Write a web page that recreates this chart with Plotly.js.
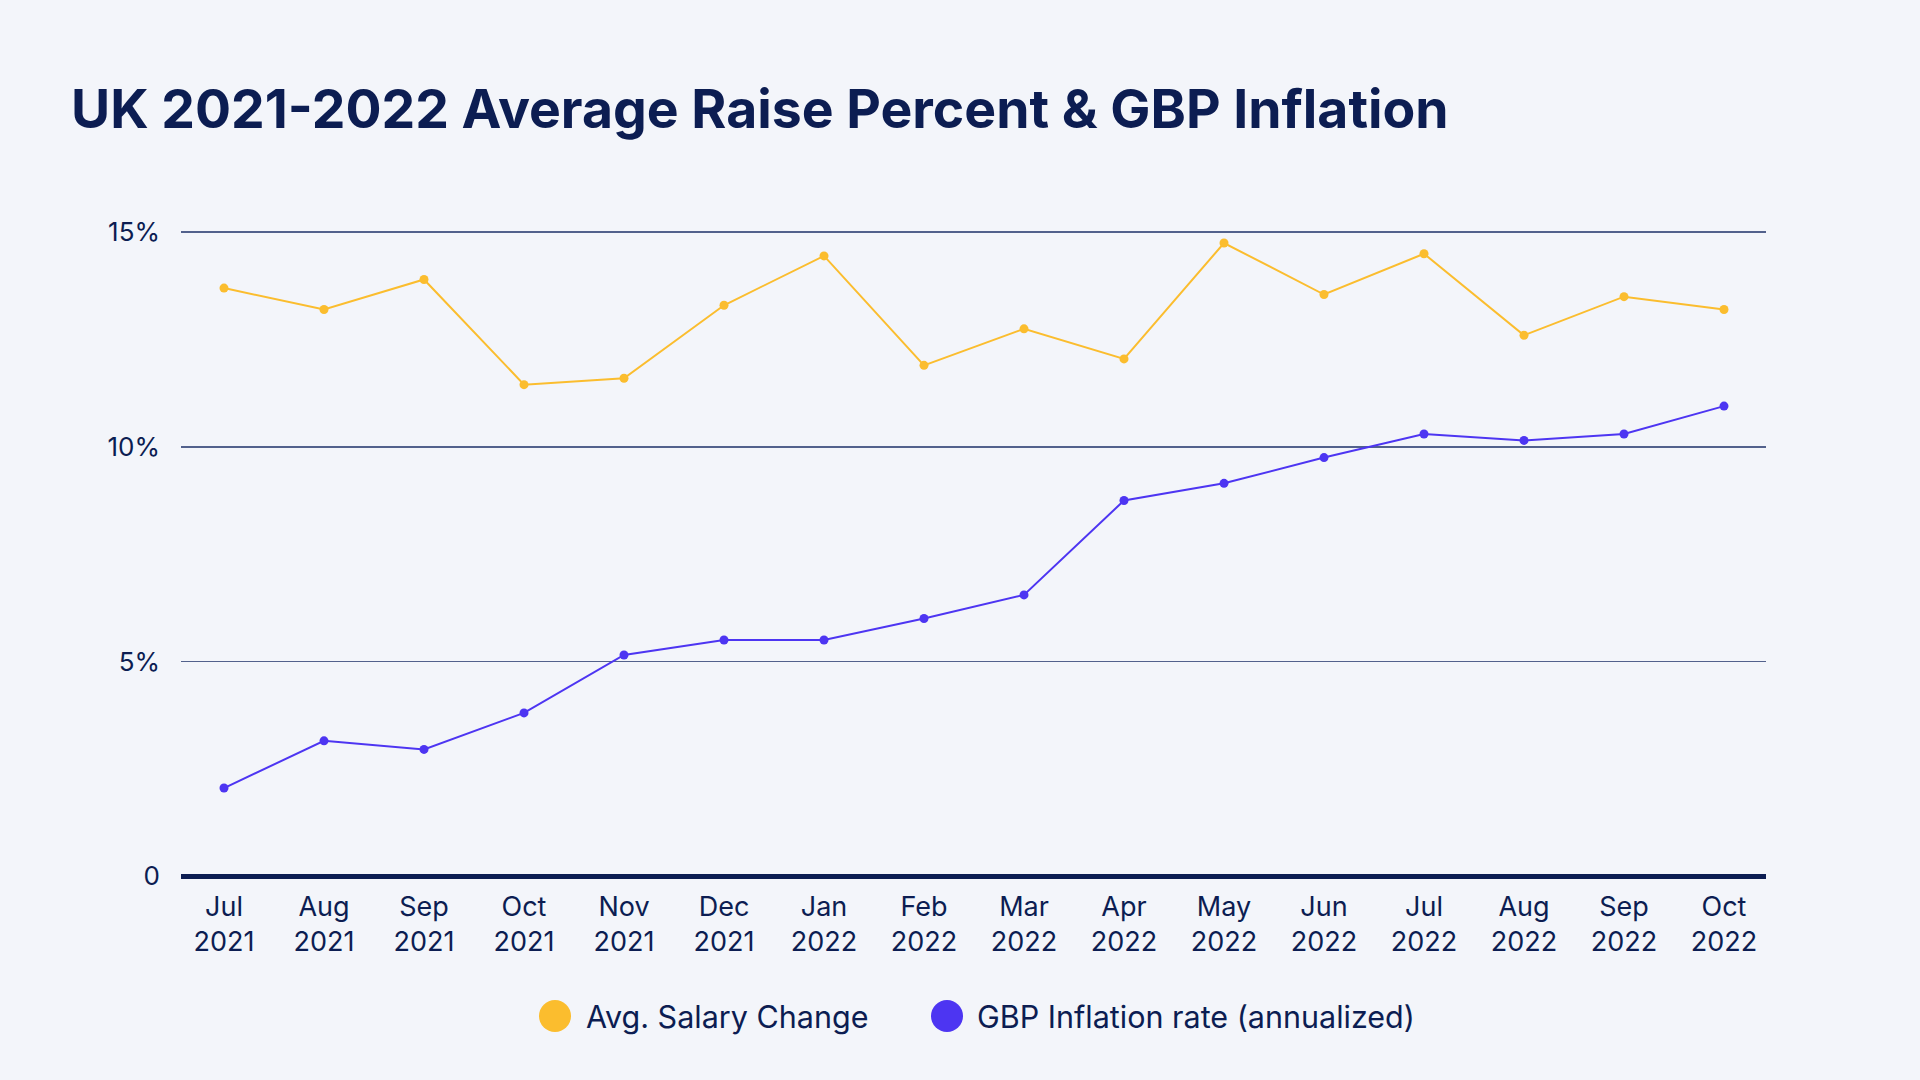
<!DOCTYPE html>
<html>
<head>
<meta charset="utf-8">
<script src="https://cdn.plot.ly/plotly-3.0.1.min.js"></script>
<style>
  html, body { margin: 0; padding: 0; background: #f3f5fa; }
  #chart { width: 1920px; height: 1080px; }
</style>
</head>
<body>
<div id="chart"></div>
<script>
// months on the x axis (two-line labels)
const months = [
    'Jul<br>2021', 'Aug<br>2021', 'Sep<br>2021', 'Oct<br>2021', 'Nov<br>2021', 'Dec<br>2021',
    'Jan<br>2022', 'Feb<br>2022', 'Mar<br>2022', 'Apr<br>2022', 'May<br>2022', 'Jun<br>2022',
    'Jul<br>2022', 'Aug<br>2022', 'Sep<br>2022', 'Oct<br>2022'
];
// values, in percent
const salaryChange = [13.7, 13.2, 13.9, 11.45, 11.6, 13.3, 14.45, 11.9, 12.75, 12.05, 14.75, 13.55, 14.5, 12.6, 13.5, 13.2];
const inflationRate = [2.05, 3.15, 2.95, 3.8, 5.15, 5.5, 5.5, 6.0, 6.55, 8.75, 9.15, 9.75, 10.3, 10.15, 10.3, 10.95];
const seriesNames = ['Avg. Salary Change', 'GBP Inflation rate (annualized)'];
const yTicks = [0, 5, 10, 15];
const yTickText = ['0', '5%', '10%', '15%'];

const navy = '#0c1d52';
const yellow = '#fbbd2e';
const blue = '#4d35f2';
const font = 'Inter, "Noto Sans", sans-serif';

// plot area in pixels (top leaves a little room above 15% so its gridline is drawn)
const W = 1920, H = 1080;
const L = 181, R = 154, T = 228, B = 204;
const yMax = 15.1;
const px = x => (x - L) / (W - L - R);          // pixel -> paper x
const py = y => (H - B - y) / (H - T - B);      // pixel -> paper y

let dataDraw = [
    {
        x: months, y: salaryChange, name: seriesNames[0],
        type: 'scatter', mode: 'lines+markers',
        line: {color: yellow, width: 2},
        marker: {color: yellow, size: 9},
        cliponaxis: false
    },
    {
        x: months, y: inflationRate, name: seriesNames[1],
        type: 'scatter', mode: 'lines+markers',
        line: {color: blue, width: 2},
        marker: {color: blue, size: 9},
        cliponaxis: false
    }
];

// legend drawn by hand so the dots can be as big as in the picture
let legendY = py(1016);
let legendItems = [
    {dot: 555, text: 584, color: yellow, label: seriesNames[0]},
    {dot: 947, text: 975, color: blue, label: seriesNames[1]}
];
let shapes = legendItems.map(item => ({
    type: 'circle', xref: 'paper', yref: 'paper',
    xsizemode: 'pixel', ysizemode: 'pixel',
    xanchor: px(item.dot), yanchor: legendY,
    x0: -16, x1: 16, y0: -16, y1: 16,
    fillcolor: item.color, line: {width: 0}
}));
let annotations = legendItems.map(item => ({
    xref: 'paper', yref: 'paper', x: px(item.text), y: legendY,
    xanchor: 'left', yanchor: 'middle', showarrow: false,
    text: item.label, font: {family: font, size: 30.5, color: navy}
}));

let layout = {
    width: W,
    height: H,
    paper_bgcolor: '#f3f5fa',
    plot_bgcolor: '#f3f5fa',
    margin: {l: L, r: R, t: T, b: B},
    showlegend: false,
    title: {
        text: '<b>UK 2021-2022 Average Raise Percent & GBP Inflation</b>',
        xref: 'container', yref: 'container',
        x: 71 / W, xanchor: 'left',
        y: 1 - 109 / H, yanchor: 'middle',
        font: {family: font, size: 53.5, color: navy}
    },
    xaxis: {
        type: 'category',
        range: [-0.43, 15.42],
        showgrid: false,
        zeroline: false,
        showline: false,
        ticks: '',
        ticklabelstandoff: 12,
        tickfont: {family: font, size: 27, color: navy}
    },
    yaxis: {
        range: [0, yMax],
        tickvals: yTicks,
        ticktext: yTickText,
        showgrid: true,
        gridcolor: '#52618c',
        gridwidth: 1.8,
        zeroline: true,
        zerolinecolor: navy,
        zerolinewidth: 5,
        showline: false,
        ticks: '',
        ticklabelstandoff: 20,
        tickfont: {family: font, size: 26, color: navy}
    },
    shapes: shapes,
    annotations: annotations
};

Plotly.newPlot('chart', dataDraw, layout, {staticPlot: true});
</script>
</body>
</html>
